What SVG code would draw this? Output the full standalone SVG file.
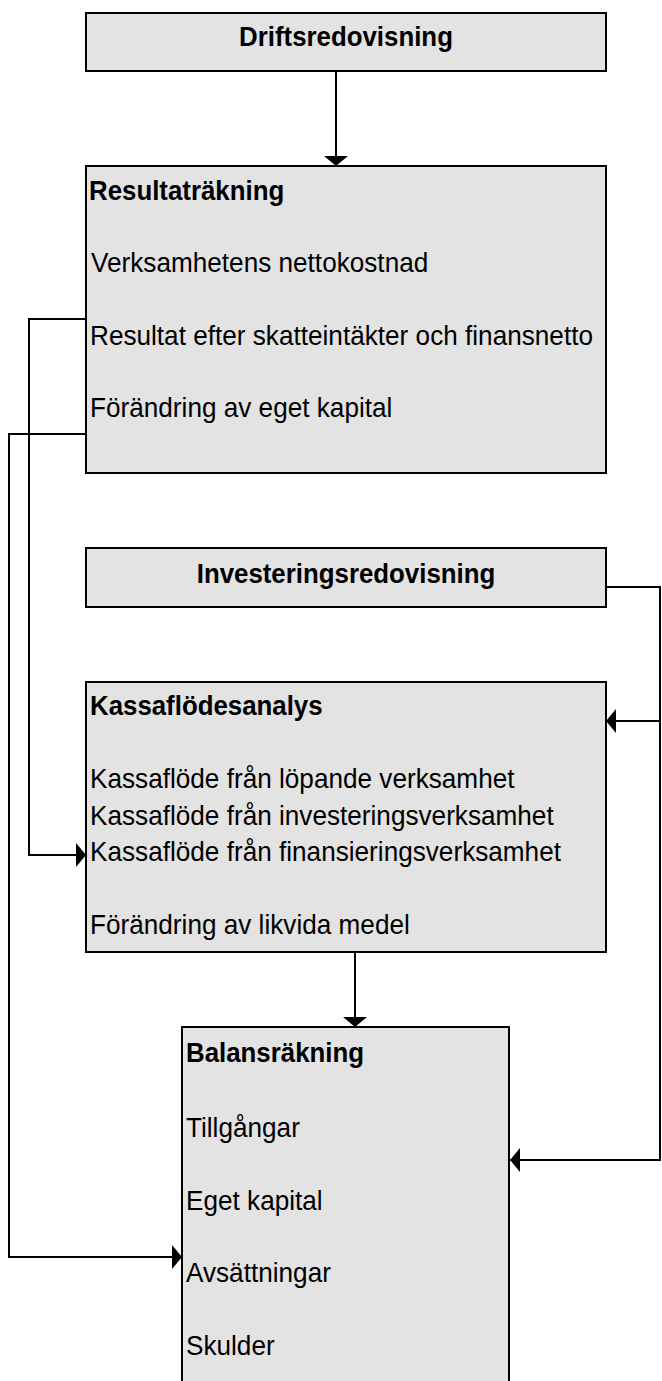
<svg xmlns="http://www.w3.org/2000/svg" width="662" height="1381" viewBox="0 0 662 1381">
<style>
.box{fill:#e3e3e3;stroke:#000;stroke-width:2}
.t{font-family:"Liberation Sans",Arial,sans-serif;font-size:28.5px;fill:#000}
.b{font-weight:bold}
.c{fill:none;stroke:#000;stroke-width:2}
</style>
<defs>
<marker id="ah" markerUnits="userSpaceOnUse" viewBox="0 0 10 24" refX="10" refY="12" markerWidth="10" markerHeight="24" orient="auto">
<path d="M0,0 L10,12 L0,24 z" fill="#000"/>
</marker>
</defs>
<rect width="662" height="1381" fill="#fff"/>
<g id="drift">
<rect class="box" x="86" y="13" width="520" height="58"/>
<text class="t b" transform="translate(346,46) scale(0.907,1)" text-anchor="middle">Driftsredovisning</text>
</g>
<g id="resultat">
<rect class="box" x="86" y="166" width="520" height="307"/>
<text class="t b" transform="translate(89,199.5) scale(0.907,1)">Resultaträkning</text>
<text class="t" transform="translate(91,272) scale(0.918,1)">Verksamhetens nettokostnad</text>
<text class="t" transform="translate(90,344.5) scale(0.918,1)">Resultat efter skatteintäkter och finansnetto</text>
<text class="t" transform="translate(90,417) scale(0.918,1)">Förändring av eget kapital</text>
</g>
<g id="invest">
<rect class="box" x="86" y="548" width="520" height="59"/>
<text class="t b" transform="translate(346,582.5) scale(0.907,1)" text-anchor="middle">Investeringsredovisning</text>
</g>
<g id="kassa">
<rect class="box" x="86" y="682" width="520" height="270"/>
<text class="t b" transform="translate(90,715) scale(0.907,1)">Kassaflödesanalys</text>
<text class="t" transform="translate(90,788) scale(0.918,1)">Kassaflöde från löpande verksamhet</text>
<text class="t" transform="translate(90,825) scale(0.918,1)">Kassaflöde från investeringsverksamhet</text>
<text class="t" transform="translate(90,861) scale(0.918,1)">Kassaflöde från finansieringsverksamhet</text>
<text class="t" transform="translate(90,934) scale(0.918,1)">Förändring av likvida medel</text>
</g>
<g id="balans">
<rect class="box" x="182" y="1027" width="327" height="360"/>
<text class="t b" transform="translate(186,1062) scale(0.907,1)">Balansräkning</text>
<text class="t" transform="translate(186,1137) scale(0.918,1)">Tillgångar</text>
<text class="t" transform="translate(186,1210) scale(0.918,1)">Eget kapital</text>
<text class="t" transform="translate(186,1282) scale(0.918,1)">Avsättningar</text>
<text class="t" transform="translate(186,1355) scale(0.918,1)">Skulder</text>
</g>
<g id="connectors">
<path class="c" d="M336,71 V166" marker-end="url(#ah)"/>
<path class="c" d="M86,319 H29 V855 H86" marker-end="url(#ah)"/>
<path class="c" d="M86,434 H9 V1257 H182" marker-end="url(#ah)"/>
<path class="c" d="M606,587 H660 V1160 H510" marker-end="url(#ah)"/>
<path class="c" d="M660,721 H606" marker-end="url(#ah)"/>
<path class="c" d="M355,952 V1027" marker-end="url(#ah)"/>
</g>
</svg>
